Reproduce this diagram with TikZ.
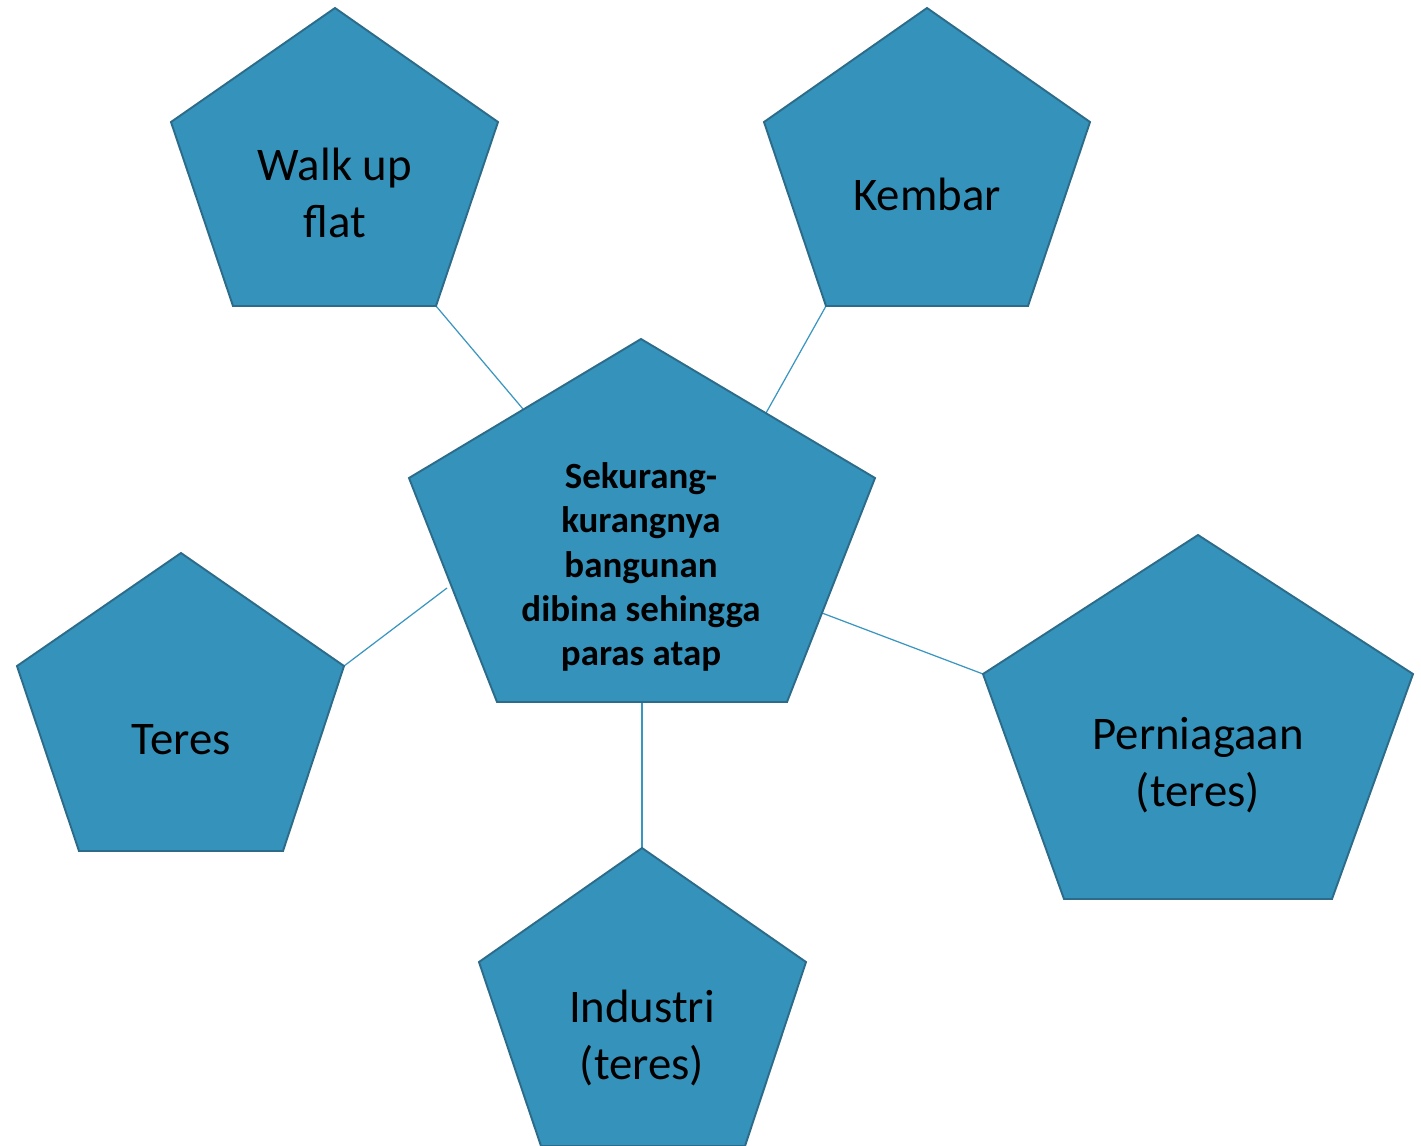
\documentclass[tikz,border=0pt]{standalone}
\usepackage{fontspec}
\setmainfont{Carlito}
\usepackage{tikz}
\usetikzlibrary{backgrounds}
\definecolor{pentfill}{RGB}{53,147,187}
\definecolor{pentline}{RGB}{44,108,138}
\definecolor{linkline}{RGB}{58,150,192}
\tikzset{
  pent/.style={fill=pentfill, draw=pentline, line width=0.55pt, line join=miter},
  lbl/.style={align=center, inner sep=0pt, font=\fontsize{13.3}{16.2}\selectfont},
  ctrlbl/.style={align=center, inner sep=0pt, font=\fontsize{10.5}{12.6}\selectfont\bfseries},
  link/.style={draw=linkline, line width=0.35pt}
}

\begin{document}
\begin{tikzpicture}[x=0.01cm,y=-0.01cm]
\useasboundingbox (0,0) rectangle (1421,1145);
% pentagons
\draw[pent] (641,339) -- (875,478) -- (787,702) -- (497,702) -- (409,478) -- cycle;
\draw[pent] (335,8) -- (498,122) -- (436,306) coordinate (wuBR) -- (233,306) -- (171,122) -- cycle;
\draw[pent] (927,8) -- (1090,122) -- (1028,306) -- (826,306) coordinate (kbBL) -- (764,122) -- cycle;
\draw[pent] (181,553) -- (344,666) coordinate (trR) -- (283,851) -- (79,851) -- (17,666) -- cycle;
\draw[pent] (1198,535) -- (1413,674) -- (1332,899) -- (1064,899) -- (983,674) coordinate (pnL) -- cycle;
\draw[pent] (642,848) coordinate (inT) -- (806,962) -- (745,1146) -- (541,1146) -- (479,962) -- cycle;
% end points on the middle one
\coordinate (cWU) at (523,409);
\coordinate (cKB) at (766,413);
\coordinate (cTR) at (447,588);
\coordinate (cPN) at (822,613);
\coordinate (cIN) at (642,702);
% texts
\node[ctrlbl] (ctr) at (641,567) {Sekurang-\\kurangnya\\bangunan\\dibina sehingga\\paras atap};
\node[lbl] (wu) at (335,193) {Walk up\\flat};
\node[lbl] (kb) at (927,194) {Kembar};
\node[lbl] (tr) at (181,740) {Teres};
\node[lbl] (pn) at (1198,765) {Perniagaan\\(teres)};
\node[lbl] (in) at (642,1038) {Industri\\(teres)};
% links
\begin{scope}[on background layer]
\draw[link] (wuBR) -- (cWU);
\draw[link] (kbBL) -- (cKB);
\draw[link] (trR) -- (cTR);
\draw[link] (pnL) -- (cPN);
\draw[link] (inT) -- (cIN);
\end{scope}
\end{tikzpicture}
\end{document}
